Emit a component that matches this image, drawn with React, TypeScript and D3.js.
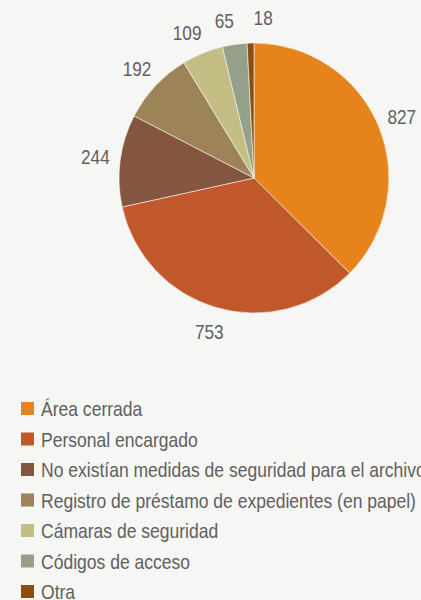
import React from "react";
import * as d3 from "d3";

const categories = [
  "Área cerrada",
  "Personal encargado",
  "No existían medidas de seguridad para el archivo",
  "Registro de préstamo de expedientes (en papel)",
  "Cámaras de seguridad",
  "Códigos de acceso",
  "Otra",
];
const values = [827, 753, 244, 192, 109, 65, 18];
const colors = ["#E6831A", "#C0582C", "#84553F", "#9C8358", "#C4BD84", "#95A08A", "#8A4E0F"];

const W = 421;
const H = 600;
const cx = 254;
const cy = 178;
const R = 135;
const labelR = 160;
const FONT = "'Liberation Sans', Arial, sans-serif";
const SX = 0.82; // narrow font emulation
const LEG_SX = 0.835;
const MIN_GAP = (14 * Math.PI) / 180;

function spreadAngles(angles: number[]): number[] {
  const a = angles.slice();
  for (let it = 0; it < 100; it++) {
    let moved = false;
    for (let i = 0; i < a.length - 1; i++) {
      const gap = a[i + 1] - a[i];
      if (gap < MIN_GAP) {
        const d = (MIN_GAP - gap) / 2;
        a[i] -= d;
        a[i + 1] += d;
        moved = true;
      }
    }
    if (!moved) break;
  }
  return a;
}

export default function App() {
  const pie = d3.pie<number>().sort(null).value((d) => d)(values);
  const arc = d3.arc<d3.PieArcDatum<number>>().innerRadius(0).outerRadius(R);
  const mids = pie.map((p) => (p.startAngle + p.endAngle) / 2);
  const labelAngles = spreadAngles(mids);
  const legendY = d3.scaleLinear().domain([0, 1]).range([408.5, 439]);

  return (
    <svg
      width={W}
      height={H}
      style={{ position: "absolute", left: 0, top: 0, display: "block" }}
      fontFamily={FONT}
    >
      <rect x={0} y={0} width={W} height={H} fill="#F6F6F4" />
      <g transform={`translate(${cx},${cy})`}>
        {pie.map((p, i) => (
          <path key={i} d={arc(p) || ""} fill={colors[i]} stroke="#F6F6F4" strokeWidth={0.6} />
        ))}
        {pie.map((p, i) => {
          const a = labelAngles[i];
          const x = labelR * Math.sin(a);
          const y = -labelR * Math.cos(a);
          return (
            <text
              key={"l" + i}
              transform={`translate(${x},${y}) scale(${SX},1)`}
              textAnchor="middle"
              dominantBaseline="central"
              fontSize={21}
              fill="#606060"
            >
              {values[i]}
            </text>
          );
        })}
      </g>
      <g>
        {categories.map((c, i) => (
          <g key={c} transform={`translate(0,${legendY(i)})`}>
            <rect x={21} y={-6.5} width={13} height={13} fill={colors[i]} />
            <text
              transform={`translate(41,0) scale(${LEG_SX},1)`}
              dominantBaseline="central"
              fontSize={21}
              fill="#606060"
            >
              {c}
            </text>
          </g>
        ))}
      </g>
    </svg>
  );
}
